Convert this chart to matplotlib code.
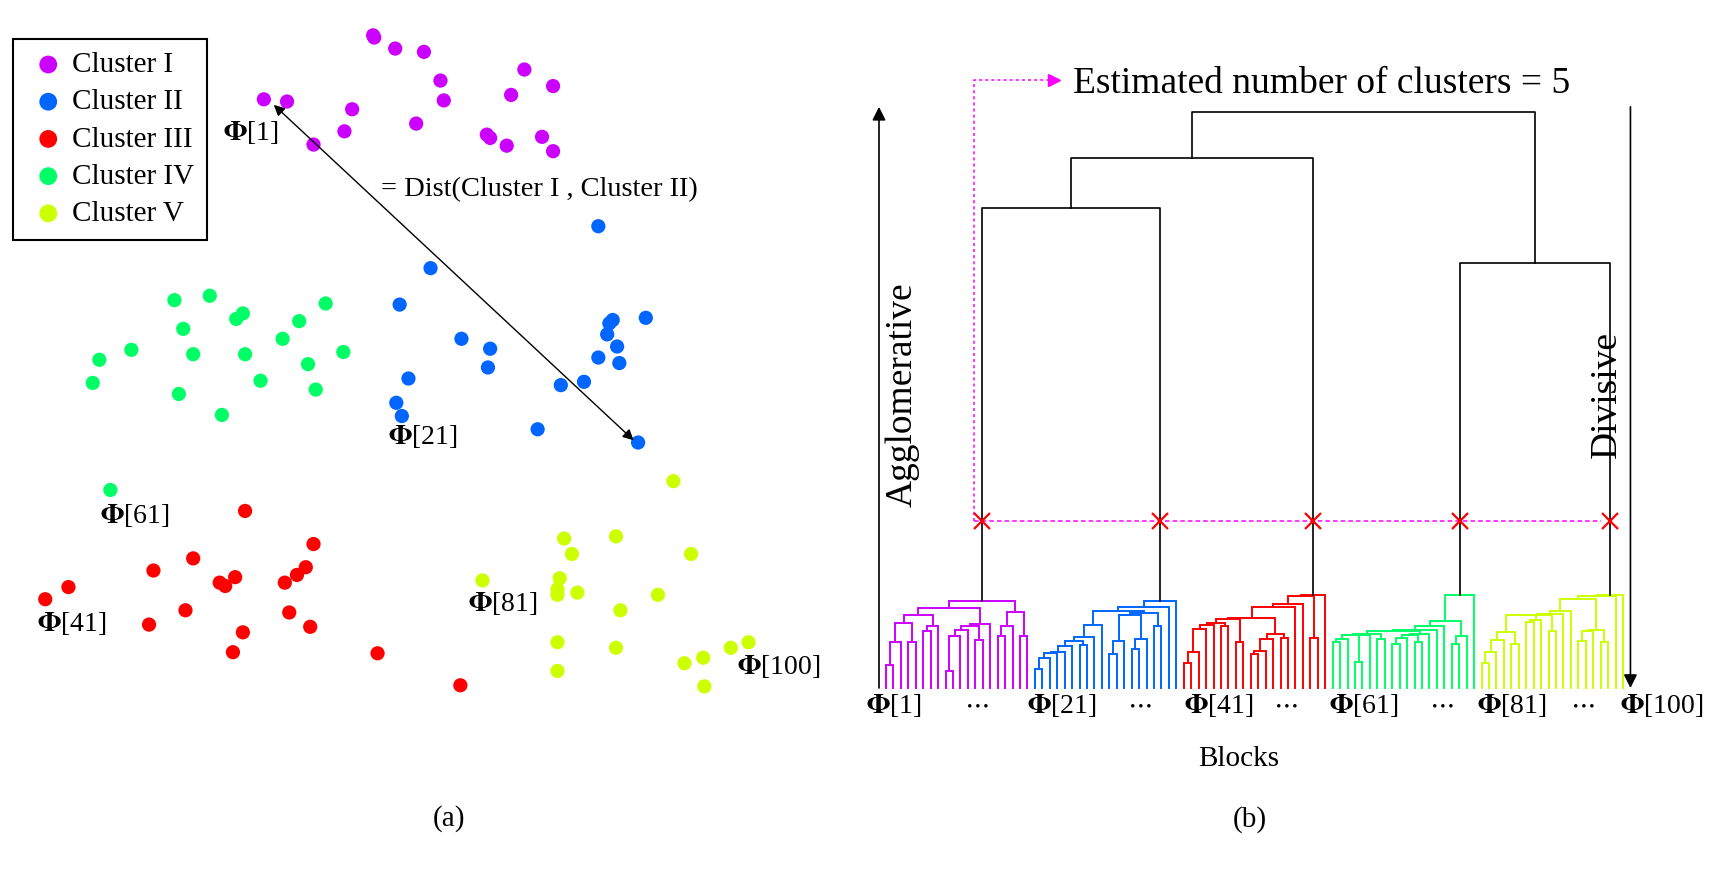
import numpy as np
import matplotlib
matplotlib.use('Agg')
import matplotlib.pyplot as plt

plt.rcParams['font.family'] = ['Liberation Serif', 'DejaVu Serif']
plt.rcParams['mathtext.fontset'] = 'stix'

# ---- scatter data (2-D embedding of the 100 blocks) ----
c1_x = [338, 339, 358, 384, 399, 402, 377, 319, 312, 284, 239, 260, 475, 501, 463, 441, 459, 491, 501, 444]
c1_y = [32, 34, 44, 47, 73, 91, 112, 99, 119, 131, 90, 92, 63, 78, 86, 122, 132, 124, 137, 125]
c2_x = [542, 390, 362, 585, 555, 552, 550, 559, 542, 561, 418, 444, 442, 370, 508, 529, 359, 364, 487, 578]
c2_y = [205, 243, 276, 288, 290, 293, 303, 314, 324, 329, 307, 316, 333, 343, 349, 346, 365, 377, 389, 401]
c3_x = [222, 284, 175, 139, 62, 41, 213, 199, 204, 277, 269, 258, 262, 281, 168, 135, 220, 211, 342, 417]
c3_y = [463, 493, 506, 517, 532, 543, 523, 528, 531, 514, 521, 528, 555, 568, 553, 566, 573, 591, 592, 621]
c4_x = [158, 190, 214, 220, 271, 295, 166, 256, 311, 175, 222, 279, 90, 119, 84, 162, 236, 286, 201, 100]
c4_y = [272, 268, 289, 284, 291, 275, 298, 307, 319, 321, 321, 330, 326, 317, 347, 357, 345, 353, 376, 444]
c5_x = [610, 511, 558, 518, 626, 437, 507, 505, 505, 523, 596, 562, 505, 558, 505, 662, 678, 637, 620, 638]
c5_y = [436, 488, 486, 502, 502, 526, 524, 534, 539, 537, 539, 553, 582, 587, 608, 587, 582, 596, 601, 622]

cluster_names = ['Cluster I', 'Cluster II', 'Cluster III', 'Cluster IV', 'Cluster V']
cluster_colors = ['#CC00FF', '#0066FF', '#FF0000', '#00FF66', '#CCFF00']

# top-level linkage between the 5 clusters (scipy style: idx_a, idx_b, height)
top_links = [(0, 1, 83.3), (5, 2, 92.0), (3, 4, 73.8), (6, 7, 100.0)]
cut_height = 29.0
sub_tops = [15.1, 15.1, 16.1, 16.1, 16.1]

leaf_labels = [r'$\mathbf{\Phi}$[1]', r'$\cdots$', r'$\mathbf{\Phi}$[21]', r'$\cdots$',
               r'$\mathbf{\Phi}$[41]', r'$\cdots$', r'$\mathbf{\Phi}$[61]', r'$\cdots$',
               r'$\mathbf{\Phi}$[81]', r'$\cdots$', r'$\mathbf{\Phi}$[100]']
leaf_label_pos = [1.1, 12.2, 23.6, 34.0, 44.7, 53.7, 64.1, 74.6, 84.0, 93.6, 104.2]


def single_linkage(pts):
    d = np.sqrt(((pts[:, None, :] - pts[None, :, :]) ** 2).sum(-1))
    members = [[i] for i in range(len(pts))]
    trees = [('leaf', i, 0.0, 1) for i in range(len(pts))]
    while len(members) > 1:
        best = None
        for a in range(len(members)):
            for b in range(a + 1, len(members)):
                h = d[np.ix_(members[a], members[b])].min()
                if best is None or h < best[0]:
                    best = (h, a, b)
        h, a, b = best
        ta, tb = trees[a], trees[b]
        if tb[3] > ta[3]:
            ta, tb = tb, ta
        node = ('node', (ta, tb), h, ta[3] + tb[3])
        mem = members[a] + members[b]
        for k in (b, a):
            del members[k]
            del trees[k]
        members.append(mem)
        trees.append(node)
    return trees[0]


def draw_tree(ax, tree, start, top, color):
    # returns (x, y) of the node, draws the U shapes
    counter = [start]
    hmax = tree[2]

    def rec(t):
        if t[0] == 'leaf':
            x = counter[0]
            counter[0] += 1
            return x, 0.0
        (xl, yl), (xr, yr) = rec(t[1][0]), rec(t[1][1])
        h = top * np.sqrt(t[2] / hmax)
        ax.plot([xl, xl, xr, xr], [yl, h, h, yr], color=color, lw=1.4,
                solid_joinstyle='miter', clip_on=False)
        return (xl + xr) / 2, h

    return rec(tree)


fig = plt.figure(figsize=(17.31, 8.74), dpi=100)

# ---------------- (a) scatter ----------------
axl = fig.add_axes([0, 0, 0.5, 1])
axl.set_xlim(0, 784)
axl.set_ylim(792, 0)
axl.axis('off')

xs = [c1_x, c2_x, c3_x, c4_x, c5_x]
ys = [c1_y, c2_y, c3_y, c4_y, c5_y]
for cx, cy, col, name in zip(xs, ys, cluster_colors, cluster_names):
    axl.scatter(cx, cy, s=105, color=col, edgecolors='none', label=name, zorder=3)

leg = axl.legend(loc='upper left', bbox_to_anchor=(12 / 784, 1 - 35 / 792), fontsize=21,
                 frameon=True, fancybox=False, edgecolor='black', framealpha=1,
                 handletextpad=0.05, labelspacing=0.37, borderpad=0.45, borderaxespad=0,
                 handlelength=1.5, markerscale=1.25)
leg.get_frame().set_linewidth(1.5)

axl.annotate('', xy=(248, 95), xytext=(574, 399),
             arrowprops=dict(arrowstyle='<|-|>', color='black', lw=1.0, mutation_scale=16,
                             shrinkA=0, shrinkB=0))
axl.text(345, 172, '= Dist(Cluster I , Cluster II)', fontsize=20.5, ha='left', va='center')

phi_pts = [(227, 120, '1'), (383, 396, '21'), (122, 467, '61'), (65, 565, '41'),
           (455, 547, '81'), (705, 604, '100')]
for px, py, lab in phi_pts:
    axl.text(px, py, r'$\mathbf{\Phi}$[' + lab + ']', fontsize=20, ha='center', va='center')

axl.text(407, 742, '(a)', fontsize=21, ha='center', va='center')

# ---------------- (b) dendrogram ----------------
axr = fig.add_axes([886 / 1731, (874 - 688) / 874, (1623 - 886) / 1731, (688 - 112) / 874])
axr.set_xlim(0, 99)
axr.set_ylim(0, 100)
axr.axis('off')

nodes = []
for k, (cx, cy, col) in enumerate(zip(xs, ys, cluster_colors)):
    pts = np.column_stack([cx, cy]).astype(float)
    tree = single_linkage(pts)
    nodes.append(draw_tree(axr, tree, 20 * k, sub_tops[k], col))

stems = [n[0] for n in nodes]
for a, b, h in top_links:
    (xa, ya), (xb, yb) = nodes[a], nodes[b]
    axr.plot([xa, xa, xb, xb], [ya, h, h, yb], color='black', lw=1.2, clip_on=False)
    nodes.append(((xa + xb) / 2, h))

# cut line and estimated-number arrow
axr.plot([11.8, 96.05], [cut_height, cut_height], color='#FF00FF', lw=1.1,
         linestyle=(0, (3, 2)), clip_on=False, zorder=4)
axr.plot(stems, [cut_height] * len(stems), 'x', color='red', markersize=11, mew=1.6,
         clip_on=False, zorder=5)
axr.plot([11.8, 11.8, 22.3], [cut_height, 105.6, 105.6], color='#FF00FF', lw=1.1,
         linestyle=(0, (2, 2)), clip_on=False)
axr.plot([22.6], [105.6], '>', color='#FF00FF', markersize=8, clip_on=False)
axr.text(25.1, 104.9, 'Estimated number of clusters = 5', fontsize=27, ha='left', va='center')

axr.annotate('', xy=(-0.94, 100.9), xytext=(-0.94, 0), annotation_clip=False,
             arrowprops=dict(arrowstyle='-|>', color='black', lw=1.2, mutation_scale=20,
                             shrinkA=0, shrinkB=0))
axr.annotate('', xy=(100.0, 0), xytext=(100.0, 100.9), annotation_clip=False,
             arrowprops=dict(arrowstyle='-|>', color='black', lw=1.2, mutation_scale=20,
                             shrinkA=0, shrinkB=0))
axr.text(2.2, 50.9, 'Agglomerative', fontsize=27, rotation=90, ha='center', va='center')
axr.text(96.8, 51.0, 'Divisive', fontsize=27, rotation=90, ha='center', va='center')

for pos, lab in zip(leaf_label_pos, leaf_labels):
    axr.text(pos, -3.0, lab, fontsize=20, ha='center', va='center')
axr.text(47.4, -12.3, 'Blocks', fontsize=21, ha='center', va='center')
axr.text(48.9, -22.9, '(b)', fontsize=21, ha='center', va='center')

fig.savefig('out.png', dpi=100)
